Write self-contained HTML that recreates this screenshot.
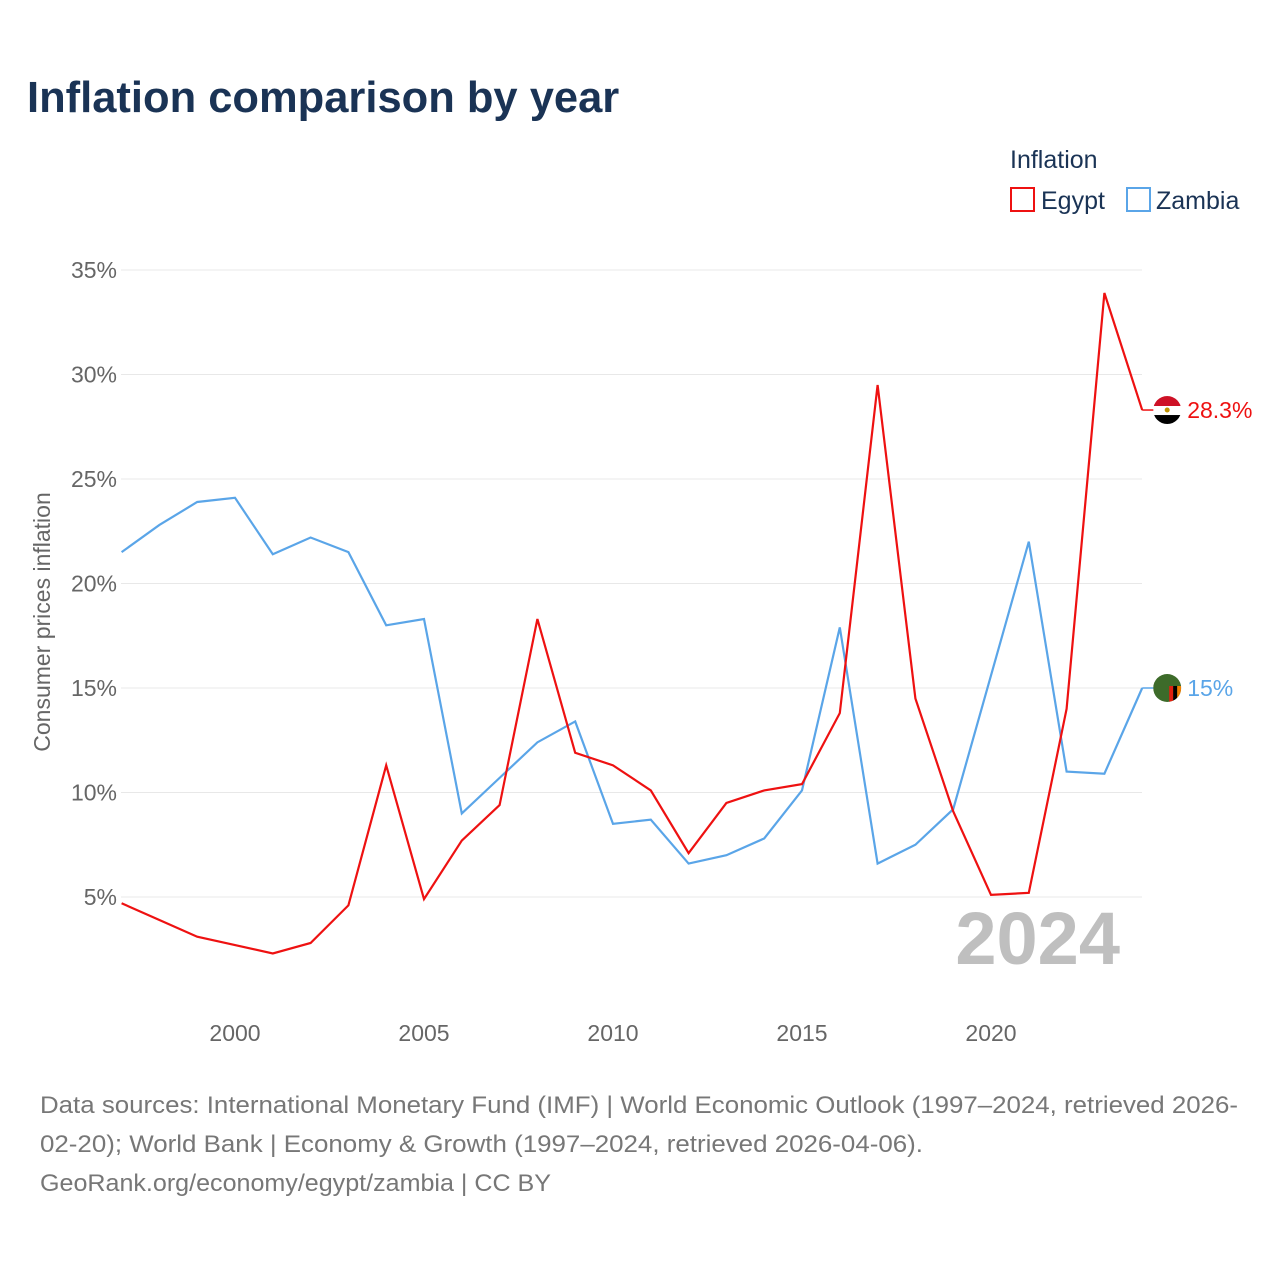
<!DOCTYPE html>
<html><head><meta charset="utf-8"><style>
body{margin:0;background:#fff;width:1280px;height:1280px;overflow:hidden;font-family:"Liberation Sans",sans-serif}
</style></head><body>
<svg width="1280" height="1280" id="chart" style="font-family:'Liberation Sans',sans-serif">
<text x="27" y="112" font-size="43.5" font-weight="bold" fill="#1a3355">Inflation comparison by year</text>
<text x="1010" y="168" font-size="25" fill="#1a3355">Inflation</text>
<g><rect x="1011" y="188" width="23" height="23" fill="none" stroke="#ee1111" stroke-width="2"/><text x="1041" y="209" font-size="25" fill="#1a3355">Egypt</text></g>
<g><rect x="1127" y="188" width="23" height="23" fill="none" stroke="#5aa5e8" stroke-width="2"/><text x="1156" y="209" font-size="25" fill="#1a3355">Zambia</text></g>
<g id="grid"></g><g id="xt"></g><g id="series"></g>
<text transform="translate(50,622) rotate(-90)" text-anchor="middle" font-size="23" fill="#666">Consumer prices inflation</text>
<text x="1120" y="964" text-anchor="end" font-size="74" font-weight="bold" fill="#bfbfbf">2024</text>
<text font-size="24" fill="#777"><tspan x="40" y="1113" textLength="1198" lengthAdjust="spacingAndGlyphs">Data sources: International Monetary Fund (IMF) | World Economic Outlook (1997–2024, retrieved 2026-</tspan><tspan x="40" y="1152" textLength="883" lengthAdjust="spacingAndGlyphs">02-20); World Bank | Economy &amp; Growth (1997–2024, retrieved 2026-04-06).</tspan><tspan x="40" y="1191" textLength="511" lengthAdjust="spacingAndGlyphs">GeoRank.org/economy/egypt/zambia | CC BY</tspan></text>
</svg>
<script>
const years=[1997,1998,1999,2000,2001,2002,2003,2004,2005,2006,2007,2008,2009,2010,2011,2012,2013,2014,2015,2016,2017,2018,2019,2020,2021,2022,2023,2024];
const egypt=[4.7,3.9,3.1,2.7,2.3,2.8,4.6,11.3,4.9,7.7,9.4,18.3,11.9,11.3,10.1,7.1,9.5,10.1,10.4,13.8,29.5,14.5,9.1,5.1,5.2,14.0,33.9,28.3];
const zambia=[21.5,22.8,23.9,24.1,21.4,22.2,21.5,18.0,18.3,9.0,10.7,12.4,13.4,8.5,8.7,6.6,7.0,7.8,10.1,17.9,6.6,7.5,9.2,15.6,22.0,11.0,10.9,15.0];
const yTicks=[5,10,15,20,25,30,35];
const xTicks=[2000,2005,2010,2015,2020];
const X=y=>121.6+(y-1997)*37.8;
const Y=v=>1001.5-v*20.9;
const ns="http://www.w3.org/2000/svg";
function mk(t,a,p){const e=document.createElementNS(ns,t);for(const k in a)e.setAttribute(k,a[k]);p.appendChild(e);return e;}
const grid=document.getElementById('grid');
yTicks.forEach(t=>{
 const l=mk('line',{x1:121,x2:1142,y1:Y(t),y2:Y(t),stroke:'#e8e8e8','stroke-width':1},grid);
 
 
 const tx=mk('text',{x:117,y:Y(t)+8,'text-anchor':'end','font-size':23,fill:'#666'},grid);tx.textContent=t+'%';
 
 
});
const xt=document.getElementById('xt');
xTicks.forEach(t=>{
 const tx=mk('text',{x:X(t),y:1041,'text-anchor':'middle','font-size':23,fill:'#666'},xt);tx.textContent=t;
 
 
});
const sg=document.getElementById('series');
function line(data,color,name,label,flag){
 const p=mk('polyline',{points:data.map((v,i)=>X(years[i])+','+Y(v)).join(' '),fill:'none',stroke:color,'stroke-width':2.2},sg);
 
 
 const last=data[data.length-1],lx=X(years[years.length-1]),ly=Y(last);
 mk('line',{x1:lx,x2:lx+12,y1:ly,y2:ly,stroke:color,'stroke-width':1.5},sg);
 const g=mk('g',{},sg);
 
 
 const cx=lx+25;
 const cp=mk('clipPath',{id:'c'+name},g);mk('circle',{cx:cx,cy:ly,r:14},cp);
 const gg=mk('g',{'clip-path':'url(#c'+name+')'},g);
 if(flag==='eg'){mk('rect',{x:cx-14,y:ly-14,width:28,height:10,fill:'#ce1126'},gg);mk('rect',{x:cx-14,y:ly-4,width:28,height:9,fill:'#fff'},gg);mk('rect',{x:cx-14,y:ly+5,width:28,height:10,fill:'#000'},gg);mk('circle',{cx:cx,cy:ly,r:2.5,fill:'#c09300'},gg);}
 else{mk('rect',{x:cx-14,y:ly-14,width:28,height:28,fill:'#3d6b2a'},gg);mk('rect',{x:cx+2,y:ly-2,width:4,height:16,fill:'#de2010'},gg);mk('rect',{x:cx+6,y:ly-2,width:4,height:16,fill:'#000'},gg);mk('rect',{x:cx+10,y:ly-2,width:4,height:16,fill:'#ef7d00'},gg);}
 const t=mk('text',{x:lx+45,y:ly+8,'font-size':23,fill:color},sg);t.textContent=label;
 
 
}
line(zambia,'#5aa5e8','zambia',zambia[zambia.length-1]+'%','zm');
line(egypt,'#ee1111','egypt',egypt[egypt.length-1]+'%','eg');
</script>
</body></html>
